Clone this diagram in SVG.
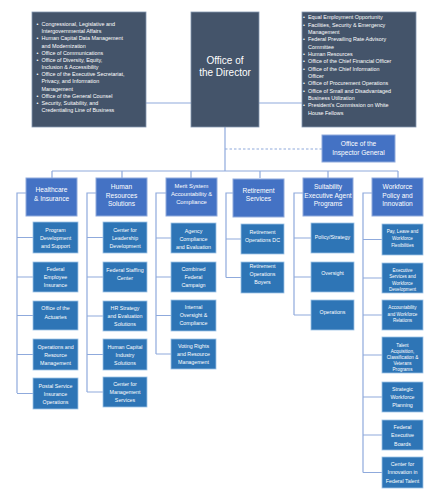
<svg xmlns="http://www.w3.org/2000/svg" width="441" height="500" viewBox="0 0 441 500">
<style>
text{font-family:"Liberation Sans",Arial,sans-serif;fill:#fff;}
.dark{fill:#44546A;stroke:#8497B0;stroke-width:0.8}
.hdr{fill:#4472C4;stroke:#8FAADC;stroke-width:1}
.ch{fill:#2E75B6;stroke:#9DC3E6;stroke-width:0.8}
.ln{stroke:#8FAADC;stroke-width:1.2;fill:none}
.dash{stroke:#8FAADC;stroke-width:1.2;fill:none;stroke-dasharray:2.5 2}
.lst{font-size:5.4px}
.dir{font-size:10px;text-anchor:middle}
.h{font-size:6.6px;text-anchor:middle}
.hs{font-size:5.8px;text-anchor:middle}
.c{font-size:5.3px;text-anchor:middle}
.cs{font-size:4.6px;text-anchor:middle}
</style>
<rect width="441" height="500" fill="#fff"/>
<g id="connectors">
<path class="ln" d="M146 103H191M259 103H302M225 127V171M52 171H398M52 171V178M122 171V178M191 171V178M260 171V178M328 171V178M398 171V179"/>
<path class="dash" d="M225 149H322"/>
<path class="ln" d="M26 193H17V393M17 237.5H33M17 277H33M17 315.5H33M17 354.5H33M17 393.5H33"/>
<path class="ln" d="M96 193H87V392M87 237.5H103M87 277H103M87 316H103M87 354.5H103M87 392H103"/>
<path class="ln" d="M166 193H156V354M156 238H171M156 277H171M156 315.5H171M156 354H171"/>
<path class="ln" d="M233 193H226V277.5M226 239H241M226 277.5H241"/>
<path class="ln" d="M303 193H294V315M294 238H311M294 277H311M294 315H311"/>
<path class="ln" d="M372 193H363V472.5M363 239.5H382M363 278H382M363 315H382M363 355H382M363 397H382M363 435H382M363 472.5H382"/>
</g>
<g id="left-list">
<rect class="dark" x="32" y="12" width="114" height="115"/>
<g class="lst">
<text x="36.5" y="26">•</text><text x="41.5" y="26">Congressional, Legislative and</text>
<text x="41.5" y="33.2">Intergovernmental Affairs</text>
<text x="36.5" y="40.3">•</text><text x="41.5" y="40.3">Human Capital Data Management</text>
<text x="41.5" y="47.5">and Modernization</text>
<text x="36.5" y="54.7">•</text><text x="41.5" y="54.7">Office of Communications</text>
<text x="36.5" y="61.8">•</text><text x="41.5" y="61.8">Office of Diversity, Equity,</text>
<text x="41.5" y="69">Inclusion &amp; Accessibility</text>
<text x="36.5" y="76.2">•</text><text x="41.5" y="76.2">Office of the Executive Secretariat,</text>
<text x="41.5" y="83.4">Privacy, and Information</text>
<text x="41.5" y="90.5">Management</text>
<text x="36.5" y="97.7">•</text><text x="41.5" y="97.7">Office of the General Counsel</text>
<text x="36.5" y="104.9">•</text><text x="41.5" y="104.9">Security, Suitability, and</text>
<text x="41.5" y="112">Credentialing Line of Business</text>
</g>
</g>
<g id="director">
<rect class="dark" x="191" y="12" width="68" height="115"/>
<text class="dir" x="225" y="63.5">Office of</text>
<text class="dir" x="225" y="75.5">the Director</text>
</g>
<g id="right-list">
<rect class="dark" x="302" y="12" width="114" height="115"/>
<g class="lst">
<text x="303" y="19.3">•</text><text x="308" y="19.3">Equal Employment Opportunity</text>
<text x="303" y="26.6">•</text><text x="308" y="26.6">Facilities, Security &amp; Emergency</text>
<text x="308" y="34">Management</text>
<text x="303" y="41.3">•</text><text x="308" y="41.3">Federal Prevailing Rate Advisory</text>
<text x="308" y="48.6">Committee</text>
<text x="303" y="56">•</text><text x="308" y="56">Human Resources</text>
<text x="303" y="63.3">•</text><text x="308" y="63.3">Office of the Chief Financial Officer</text>
<text x="303" y="70.6">•</text><text x="308" y="70.6">Office of the Chief Information</text>
<text x="308" y="78">Officer</text>
<text x="303" y="85.3">•</text><text x="308" y="85.3">Office of Procurement Operations</text>
<text x="303" y="92.6">•</text><text x="308" y="92.6">Office of Small and Disadvantaged</text>
<text x="308" y="100">Business Utilization</text>
<text x="303" y="107.3">•</text><text x="308" y="107.3">President's Commission on White</text>
<text x="308" y="114.6">House Fellows</text>
</g>
</g>
<g id="inspector-general">
<rect class="hdr" x="322" y="135" width="73" height="27"/>
<text class="h" x="358.5" y="146.3">Office of the</text>
<text class="h" x="358.5" y="155.3">Inspector General</text>
</g>
<g id="col-healthcare">
<g id="healthcare"><rect class="hdr" x="26" y="178" width="51" height="38"/>
<text class="h" x="51.5" y="191.5">Healthcare</text><text class="h" x="51.5" y="200.5">&amp; Insurance</text></g>
<g id="program-dev"><rect class="ch" x="33" y="222" width="45" height="31"/>
<text class="c" x="55.5" y="232">Program</text><text class="c" x="55.5" y="240">Development</text><text class="c" x="55.5" y="248">and Support</text></g>
<g id="fed-emp-ins"><rect class="ch" x="33" y="262" width="45" height="30"/>
<text class="c" x="55.5" y="271">Federal</text><text class="c" x="55.5" y="279">Employee</text><text class="c" x="55.5" y="287">Insurance</text></g>
<g id="actuaries"><rect class="ch" x="33" y="301" width="45" height="29"/>
<text class="c" x="55.5" y="310">Office of the</text><text class="c" x="55.5" y="318.5">Actuaries</text></g>
<g id="ops-resource"><rect class="ch" x="33" y="339" width="45" height="31"/>
<text class="c" x="55.5" y="349">Operations and</text><text class="c" x="55.5" y="357">Resource</text><text class="c" x="55.5" y="365">Management</text></g>
<g id="postal"><rect class="ch" x="33" y="378" width="45" height="31"/>
<text class="c" x="55.5" y="387.5">Postal Service</text><text class="c" x="55.5" y="395.5">Insurance</text><text class="c" x="55.5" y="403.5">Operations</text></g>
</g>
<g id="col-hr">
<g id="hr-solutions"><rect class="hdr" x="96" y="178" width="51" height="38"/>
<text class="h" x="121.5" y="188.5">Human</text><text class="h" x="121.5" y="197.5">Resources</text><text class="h" x="121.5" y="206">Solutions</text></g>
<g id="leadership"><rect class="ch" x="103" y="222" width="44" height="31"/>
<text class="c" x="125" y="232">Center for</text><text class="c" x="125" y="240">Leadership</text><text class="c" x="125" y="248">Development</text></g>
<g id="staffing"><rect class="ch" x="103" y="262" width="44" height="30"/>
<text class="c" x="125" y="272">Federal Staffing</text><text class="c" x="125" y="280">Center</text></g>
<g id="hr-strategy"><rect class="ch" x="103" y="301" width="44" height="30"/>
<text class="c" x="125" y="310">HR Strategy</text><text class="c" x="125" y="318">and Evaluation</text><text class="c" x="125" y="326">Solutions</text></g>
<g id="hc-industry"><rect class="ch" x="103" y="339" width="44" height="31"/>
<text class="c" x="125" y="349">Human Capital</text><text class="c" x="125" y="357">Industry</text><text class="c" x="125" y="365">Solutions</text></g>
<g id="mgmt-services"><rect class="ch" x="103" y="377" width="44" height="30"/>
<text class="c" x="125" y="386">Center for</text><text class="c" x="125" y="394">Management</text><text class="c" x="125" y="402">Services</text></g>
</g>
<g id="col-merit">
<g id="merit"><rect class="hdr" x="166" y="178" width="51" height="38"/>
<text class="hs" x="191.5" y="188">Merit System</text><text class="hs" x="191.5" y="196">Accountability &amp;</text><text class="hs" x="191.5" y="204">Compliance</text></g>
<g id="agency-compliance"><rect class="ch" x="171" y="223" width="45" height="30"/>
<text class="c" x="193.5" y="233">Agency</text><text class="c" x="193.5" y="241">Compliance</text><text class="c" x="193.5" y="249">and Evaluation</text></g>
<g id="cfc"><rect class="ch" x="171" y="262" width="45" height="30"/>
<text class="c" x="193.5" y="271">Combined</text><text class="c" x="193.5" y="279">Federal</text><text class="c" x="193.5" y="287">Campaign</text></g>
<g id="internal-oversight"><rect class="ch" x="171" y="300" width="45" height="31"/>
<text class="c" x="193.5" y="309">Internal</text><text class="c" x="193.5" y="317">Oversight &amp;</text><text class="c" x="193.5" y="325">Compliance</text></g>
<g id="voting"><rect class="ch" x="171" y="339" width="45" height="30"/>
<text class="c" x="193.5" y="348">Voting Rights</text><text class="c" x="193.5" y="356">and Resource</text><text class="c" x="193.5" y="364">Management</text></g>
</g>
<g id="col-retirement">
<g id="retirement"><rect class="hdr" x="233" y="179" width="51" height="38"/>
<text class="h" x="258.5" y="192.5">Retirement</text><text class="h" x="258.5" y="201">Services</text></g>
<g id="ret-dc"><rect class="ch" x="241" y="224" width="43" height="30"/>
<text class="c" x="262.5" y="234">Retirement</text><text class="c" x="262.5" y="242">Operations DC</text></g>
<g id="ret-boyers"><rect class="ch" x="241" y="262" width="43" height="31"/>
<text class="c" x="262.5" y="268">Retirement</text><text class="c" x="262.5" y="276">Operations</text><text class="c" x="262.5" y="284">Boyers</text></g>
</g>
<g id="col-suitability">
<g id="suitability"><rect class="hdr" x="303" y="178" width="50" height="38"/>
<text class="h" x="328" y="188.5">Suitability</text><text class="h" x="328" y="197.5">Executive Agent</text><text class="h" x="328" y="205.5">Programs</text></g>
<g id="policy-strategy"><rect class="ch" x="311" y="223" width="43" height="30"/>
<text class="c" x="332.5" y="239">Policy/Strategy</text></g>
<g id="oversight"><rect class="ch" x="311" y="262" width="43" height="30"/>
<text class="c" x="332.5" y="275">Oversight</text></g>
<g id="operations"><rect class="ch" x="311" y="300" width="43" height="30"/>
<text class="c" x="332.5" y="314">Operations</text></g>
</g>
<g id="col-workforce">
<g id="workforce"><rect class="hdr" x="372" y="178" width="51" height="38"/>
<text class="h" x="397.5" y="188.5">Workforce</text><text class="h" x="397.5" y="197.5">Policy and</text><text class="h" x="397.5" y="205.5">Innovation</text></g>
<g id="pay-leave"><rect class="ch" x="382" y="224" width="41" height="31"/>
<text class="cs" x="402.5" y="232.7">Pay, Leave and</text><text class="cs" x="402.5" y="239.7">Workforce</text><text class="cs" x="402.5" y="246.7">Flexibilities</text></g>
<g id="exec-services"><rect class="ch" x="382" y="263" width="41" height="30"/>
<text class="cs" x="402.5" y="271.7">Executive</text><text class="cs" x="402.5" y="278">Services and</text><text class="cs" x="402.5" y="284.7">Workforce</text><text class="cs" x="402.5" y="290.7">Development</text></g>
<g id="accountability"><rect class="ch" x="382" y="300" width="41" height="30"/>
<text class="cs" x="402.5" y="308.7">Accountability</text><text class="cs" x="402.5" y="315.7">and Workforce</text><text class="cs" x="402.5" y="322.4">Relations</text></g>
<g id="talent-acq"><rect class="ch" x="382" y="337" width="41" height="36"/>
<text class="cs" x="402.5" y="346.7">Talent</text><text class="cs" x="402.5" y="352.7">Acquisition,</text><text class="cs" x="402.5" y="358.7">Classification &amp;</text><text class="cs" x="402.5" y="364.7">Veterans</text><text class="cs" x="402.5" y="371">Programs</text></g>
<g id="strategic-planning"><rect class="ch" x="382" y="382" width="41" height="30"/>
<text class="c" x="402.5" y="390.5">Strategic</text><text class="c" x="402.5" y="398.5">Workforce</text><text class="c" x="402.5" y="407">Planning</text></g>
<g id="feb"><rect class="ch" x="382" y="420" width="41" height="30"/>
<text class="c" x="402.5" y="429">Federal</text><text class="c" x="402.5" y="437">Executive</text><text class="c" x="402.5" y="445.5">Boards</text></g>
<g id="innovation-talent"><rect class="ch" x="382" y="457" width="41" height="31"/>
<text class="c" x="402.5" y="466">Center for</text><text class="c" x="402.5" y="474">Innovation in</text><text class="c" x="402.5" y="482.5">Federal Talent</text></g>
</g>
</svg>
